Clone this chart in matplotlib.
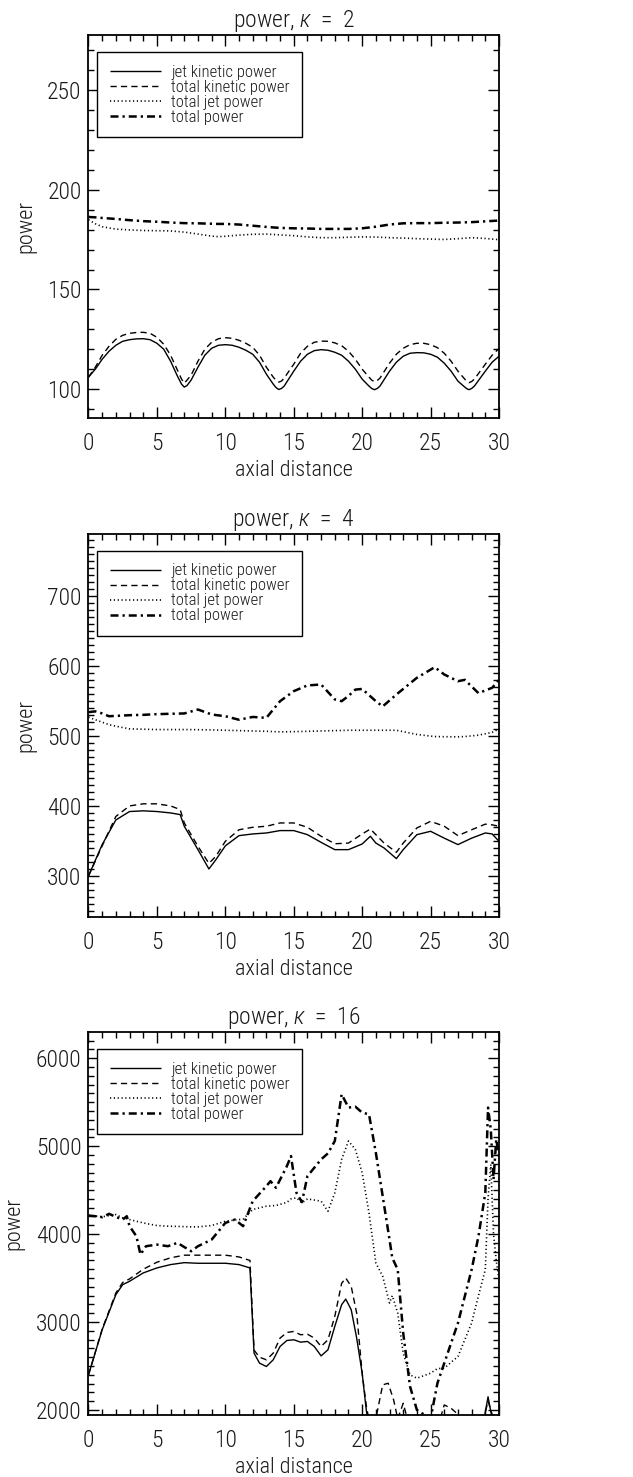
import numpy as np
import matplotlib
matplotlib.use("Agg")
import matplotlib.pyplot as plt
from matplotlib import font_manager
from matplotlib.ticker import MultipleLocator

OUT_PLOT = "out.png"

# ---------------- kappa = 2 ----------------
x_k2 = [0, 0.5, 1, 1.5, 2, 2.5, 3, 3.5, 4, 4.5, 5, 5.5, 6, 6.5, 6.8, 7, 7.2, 7.5, 8, 8.5, 9, 9.5,
        10, 10.5, 11, 11.5, 12, 12.5, 13, 13.5, 13.7, 13.9, 14.1, 14.3, 15, 15.5, 16, 16.5, 17, 17.5,
        18, 18.5, 19, 19.5, 20, 20.5, 20.7, 20.9, 21.1, 21.3, 22, 22.5, 23, 23.5, 24, 24.5, 25, 25.5,
        26, 26.5, 27, 27.5, 27.65, 27.8, 28, 28.2, 29, 29.5, 30]
jet_kin_k2 = [106, 110, 115, 119, 122, 124, 124.8, 125.2, 125.3, 124.8, 123, 120, 114, 106.5, 102.5,
              101, 101.8, 104.5, 111, 117, 120.5, 122, 122.3, 122, 121, 119.5, 117.5, 113.5, 107.5,
              102.5, 100.8, 99.8, 100.3, 101.5, 109, 114, 117.5, 119.3, 119.8, 119.5, 118.5, 117,
              114, 110, 105, 101.5, 100.3, 99.7, 100.3, 101.5, 109, 113.5, 116.5, 118, 118.3, 118.2,
              117.5, 116, 113, 109, 104, 101, 100.2, 99.7, 100.3, 101.5, 109, 113.5, 116.5]
tot_kin_k2 = [106, 111, 117, 121.5, 125, 127, 128, 128.4, 128.5, 128, 126, 122.5, 117, 109.5, 105,
              103, 104.5, 107, 114, 120, 123.5, 125.3, 125.8, 125.5, 124.5, 123, 121, 117, 111,
              106, 104.5, 103.5, 104, 105.5, 112.5, 118, 121.5, 123.5, 124.1, 124, 123.2, 121.8,
              119, 115, 110, 106, 104.5, 103.7, 104.3, 105.5, 113, 117.5, 120.5, 122.3, 123, 123,
              122.3, 120.8, 118, 114, 109, 105, 103.8, 103.2, 103.8, 105, 112.5, 117, 120.4]
x_k2_tot = [0, 0.5, 1, 2, 3, 4, 5, 6, 7, 8, 9, 9.5, 10, 11, 12, 13, 14, 15, 16, 17, 18, 19,
            20, 21, 22, 23, 24, 25, 26, 27, 28, 29, 30]
tot_jet_k2 = [185, 183, 181.5, 180.3, 179.9, 179.6, 179.5, 179.4, 178.8, 177.8, 176.8, 176.5,
              176.7, 177.3, 177.7, 177.8, 177.4, 177, 176.4, 176, 176, 176.2, 176.4, 176.3, 176,
              175.8, 175.5, 175.3, 175.1, 175.5, 176, 175.6, 175]
tot_pow_k2 = [186.4, 186.2, 185.9, 185.4, 184.8, 184.3, 184, 183.6, 183.3, 183.2, 183, 182.9, 182.9,
              182.6, 182, 181.4, 180.9, 180.7, 180.6, 180.4, 180.4, 180.4, 180.7, 181.5, 182.6,
              183.2, 183.3, 183.3, 183.5, 183.6, 183.8, 184.2, 184.6]

# ---------------- kappa = 4 ----------------
x_k4 = [0, 1, 2, 3, 4, 5, 6, 6.7, 7, 8, 8.8, 9.3, 10, 11, 12, 13, 14, 15, 16, 17, 18, 19,
        20, 20.6, 21, 21.6, 22.5, 23, 24, 25, 26, 27, 28, 29, 29.5, 30]
jet_kin_k4 = [300, 344.8, 380, 392, 393, 392, 390, 387.6, 371, 337.6, 310, 323, 343, 357.6, 360,
              361.4, 364.8, 364.8, 359, 348, 337.6, 337.6, 345.7, 356.7, 347, 340, 324.8, 337.6,
              359, 363.8, 354, 344.8, 354, 361.4, 360, 349.5]
tot_kin_k4 = [300, 343, 385, 400, 403, 403, 400, 394.8, 375.7, 342.4, 318, 328, 349.5, 366, 369.5,
              371, 375.7, 375.7, 369.5, 356.7, 346, 347, 360, 367, 359, 347, 333.8, 347, 368.6,
              378, 371, 357.6, 366, 374, 373, 371]
x_k4_tot = [0, 0.5, 1, 1.5, 2, 3, 4, 5, 6, 7, 8, 9, 10, 11, 12, 13, 14, 15, 16, 17, 18, 18.5,
            19, 19.5, 20, 21, 21.5, 22.5, 24, 25.3, 26, 27, 27.5, 28.5, 29.5, 30]
tot_jet_k4 = [526.7, 523, 519.5, 516, 513.8, 510, 509.5, 509, 509, 509, 508.8, 508.5, 508, 507.5,
              507, 506.5, 505.7, 506, 506.5, 507, 507.5, 507.7, 508, 508, 508, 508, 508, 508,
              502, 499, 498.8, 498.6, 499, 501, 505, 510]
tot_pow_k4 = [533.8, 535, 532, 528, 528.5, 529.5, 530, 531, 531.5, 532, 537.6, 530.5, 528, 523,
              527, 525.7, 549.5, 563.8, 572, 573.3, 552, 549.5, 557, 566, 567, 549.5, 542, 559,
              582.9, 598, 587.6, 578, 580, 561, 568.6, 580]

# ---------------- kappa = 16 ----------------
x_k16 = [0, 1, 2, 2.5, 3, 4, 5, 6, 7, 8, 9, 10, 11, 11.8, 12.1, 12.5, 13, 13.5, 14, 14.5,
         15, 15.5, 16, 16.5, 17, 17.5, 18, 18.5, 18.8, 19.2, 19.6, 20, 20.3, 20.6, 21,
         21.5, 21.9, 22.3, 22.6, 23, 23.3, 24, 25, 25.8, 26, 26.5, 27, 28, 28.8, 29.2, 29.5, 30]
jet_kin_k16 = [2399, 2912, 3311, 3425, 3463, 3558, 3615, 3653, 3675, 3668, 3668, 3668, 3653,
               3615, 2646, 2532, 2494, 2570, 2722, 2790, 2798, 2771, 2779, 2722, 2615, 2684,
               2950, 3197, 3261, 3140, 2817, 2418, 2000, 1700, 1600, 1600, 1600, 1600, 1600,
               1600, 1600, 1600, 1600, 1600, 1600, 1600, 1600, 1600, 1800, 2150, 1900, 1800]
tot_kin_k16 = [2399, 2920, 3330, 3450, 3490, 3600, 3680, 3730, 3760, 3760, 3760, 3760, 3740,
               3700, 2680, 2600, 2570, 2646, 2817, 2881, 2893, 2855, 2862, 2817, 2722, 2798,
               3064, 3440, 3500, 3405, 3100, 2418, 2050, 1800, 1900, 2285, 2304, 2114, 1900,
               2076, 1900, 1800, 1800, 1950, 2057, 2019, 1950, 1800, 1850, 2100, 1950, 1900]
x_k16_tot = [0, 0.5, 1, 1.5, 2, 2.5, 2.8, 3, 3.5, 3.8, 4.2, 5, 5.8, 6.5, 7.5, 8, 9, 10, 10.7,
             11.3, 12, 13, 13.3, 13.7, 14.5, 14.8, 15.2, 15.6, 16, 17, 17.5, 18, 18.5, 19,
             19.5, 20, 20.5, 21, 21.5, 22, 22.2, 22.6, 23, 23.5, 24, 25, 25.5, 26, 27, 28,
             28.5, 29, 29.2, 29.4, 29.6, 29.8, 30]
tot_jet_k16 = [4211, 4205, 4196, 4210, 4222, 4184, 4175, 4165, 4145, 4135, 4120, 4097, 4090,
               4087, 4082, 4082, 4097, 4146, 4160, 4170, 4279, 4317, 4320, 4325, 4360, 4400,
               4412, 4355, 4400, 4374, 4260, 4469, 4849, 5058, 4963, 4697, 4241, 3672, 3520,
               3216, 3300, 3102, 2646, 2399, 2361, 2418, 2470, 2475, 2608, 2988, 3300, 3596,
               4400, 4792, 4000, 3700, 3482]
tot_pow_k16 = [4211, 4203, 4192, 4230, 4196, 4165, 4203, 4090, 3975, 3767, 3862, 3880, 3862,
               3900, 3805, 3862, 3937, 4127, 4165, 4090, 4374, 4545, 4602, 4526, 4773, 4887,
               4469, 4363, 4659, 4849, 4918, 5058, 5590, 5438, 5449, 5381, 5362, 4925, 4431,
               3937, 3729, 3596, 2874, 2266, 2000, 1900, 2304, 2532, 2988, 3596, 3975, 4469,
               5438, 5191, 4621, 5077, 4887]

TITLES = ["power, $\\kappa$  =  2", "power, $\\kappa$  =  4", "power, $\\kappa$  =  16"]
LABELS = ["jet kinetic power", "total kinetic power", "total jet power", "total power"]
YLIMS = [(85.5, 277.5), (242, 788), (1943, 6293)]
YMAJOR = [50, 100, 1000]
YMINOR = [10, 10, 100]


def pick_font():
    names = {f.name for f in font_manager.fontManager.ttflist}
    for name in ["Liberation Sans Narrow", "Roboto Condensed", "Liberation Sans", "Roboto"]:
        if name in names:
            return name
    return "DejaVu Sans"


FONT = pick_font()
plt.rcParams["font.family"] = [FONT, "DejaVu Sans"]
plt.rcParams["font.weight"] = "light"
plt.rcParams["axes.titleweight"] = "light"
plt.rcParams["axes.labelweight"] = "light"
plt.rcParams["mathtext.fontset"] = "custom"
plt.rcParams["mathtext.it"] = FONT + ":italic:light"
plt.rcParams["mathtext.rm"] = FONT + ":light"
TXT = "#1a1a1a"

STYLES = [
    dict(ls="-", lw=1.0),
    dict(ls=(0, (4.5, 3.0)), lw=1.0),
    dict(ls=(0, (0.7, 1.6)), lw=1.2),
    dict(ls=(0, (3.2, 1.6, 0.9, 1.6)), lw=1.8),
]

panels = [
    (x_k2, jet_kin_k2, tot_kin_k2, x_k2_tot, tot_jet_k2, tot_pow_k2),
    (x_k4, jet_kin_k4, tot_kin_k4, x_k4_tot, tot_jet_k4, tot_pow_k4),
    (x_k16, jet_kin_k16, tot_kin_k16, x_k16_tot, tot_jet_k16, tot_pow_k16),
]

fig = plt.figure(figsize=(6.33, 14.77), dpi=100)
left, width, height = 0.1398, 0.6485, 0.259
bottoms = [0.7170, 0.3794, 0.0420]

for i, (xa, ja, ka, xb, tj, tp) in enumerate(panels):
    ax = fig.add_axes([left, bottoms[i], width, height])
    series = [(xa, ja), (xa, ka), (xb, tj), (xb, tp)]
    for (xs, ys), st, lab in zip(series, STYLES, LABELS):
        ax.plot(xs, ys, color="black", label=lab, solid_capstyle="butt",
                dash_capstyle="butt", **st)
    ax.set_xlim(0, 30)
    ax.set_ylim(*YLIMS[i])
    ax.xaxis.set_major_locator(MultipleLocator(5))
    ax.xaxis.set_minor_locator(MultipleLocator(1))
    ax.yaxis.set_major_locator(MultipleLocator(YMAJOR[i]))
    ax.yaxis.set_minor_locator(MultipleLocator(YMINOR[i]))
    ax.tick_params(which="both", direction="in", top=True, right=True, width=1.0,
                   labelsize=17, labelcolor=TXT)
    ax.tick_params(which="major", length=8)
    ax.tick_params(which="minor", length=4)
    ax.tick_params(axis="x", pad=10)
    ax.tick_params(axis="y", pad=5)
    for sp in ax.spines.values():
        sp.set_linewidth(1.3)
    ax.set_title(TITLES[i], fontsize=17, color=TXT, pad=6)
    ax.set_xlabel("axial distance", fontsize=16, color=TXT, labelpad=4)
    ax.set_ylabel("power", fontsize=16, color=TXT, labelpad=8)
    leg = ax.legend(loc="upper left", bbox_to_anchor=(0.021, 0.956), borderaxespad=0,
                    fontsize=12, handlelength=3.1, handletextpad=0.6, labelspacing=0.0,
                    borderpad=0.75, fancybox=False, framealpha=1, edgecolor="black")
    leg.get_frame().set_linewidth(1.0)
    for t in leg.get_texts():
        t.set_color(TXT)

fig.savefig(OUT_PLOT, dpi=100)
plt.close(fig)
